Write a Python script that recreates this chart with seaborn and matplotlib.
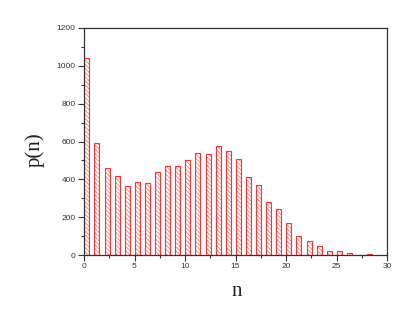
import numpy as np
import pandas as pd
import matplotlib
matplotlib.use("Agg")
import matplotlib.pyplot as plt
from matplotlib.colors import to_rgba
import seaborn as sns

n_values = list(range(30))
p_values = [1041, 591, 462, 418, 367, 388, 379, 438, 469, 469,
            501, 538, 536, 575, 549, 506, 413, 370, 280, 245,
            168, 99, 74, 48, 21, 21, 9, 2, 4, 2]
x_ticks = [0, 5, 10, 15, 20, 25, 30]
y_ticks = [0, 200, 400, 600, 800, 1000, 1200]

sns.set_style("ticks")
plt.rcParams['font.family'] = ['Liberation Sans', 'DejaVu Sans']
plt.rcParams['hatch.linewidth'] = 0.7

bar_w = 0.5
df = pd.DataFrame({"n": np.array(n_values) + bar_w / 2 + 0.03, "p": p_values})

fig = plt.figure(figsize=(4.15, 3.32), dpi=100)
ax = fig.add_axes([84 / 415, 1 - 255 / 332, (387 - 84) / 415, (255 - 28) / 332])

sns.barplot(data=df, x="n", y="p", native_scale=True, width=bar_w,
            color="white", edgecolor="#ff3030", linewidth=0.8,
            hatch="\\\\\\\\\\\\\\\\", ax=ax, errorbar=None)

for patch in ax.patches:
    patch.set_facecolor("white")
    patch.set_edgecolor("#ff3030")
    if hasattr(patch, "set_hatchcolor"):
        patch.set_hatchcolor("#ff8a8a")
    else:
        patch._hatch_color = to_rgba("#ff8a8a")

ax.set_xlim(0, 30)
ax.set_ylim(0, 1200)
ax.set_xticks(x_ticks)
ax.set_yticks(y_ticks)
ax.set_xticks(np.arange(2.5, 30, 5), minor=True)
ax.set_yticks(np.arange(100, 1200, 200), minor=True)
ax.tick_params(axis="both", which="major", direction="out", length=4, width=0.8,
               labelsize=6, colors="#333333", labelcolor="#333333", pad=2)
ax.tick_params(axis="both", which="minor", direction="out", length=2.2, width=0.8,
               colors="#333333")
for s in ax.spines.values():
    s.set_visible(True)
    s.set_linewidth(0.9)
    s.set_color("#333333")

ax.set_xlabel("")
ax.set_ylabel("")
fig.text(237 / 415, 1 - 292 / 332, "n", family="Liberation Serif", fontsize=15,
         ha="center", va="center", color="#222222")
fig.text(35 / 415, 1 - 150 / 332, "p(n)", family="Liberation Serif", fontsize=15,
         ha="center", va="center", rotation=90, color="#222222")

fig.savefig("out.png", dpi=100)
